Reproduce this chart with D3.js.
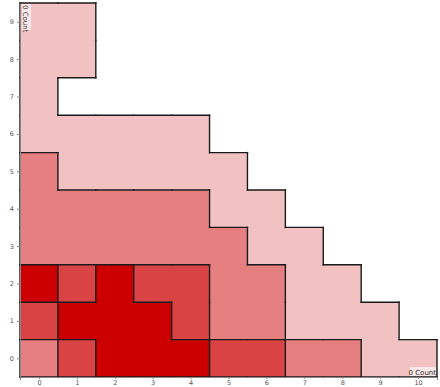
<!DOCTYPE html>
<html>
<head>
<meta charset="utf-8">
<script src="https://cdn.jsdelivr.net/npm/d3@7"></script>
<style>
  body { margin: 0; background: #fff; }
  .axis text { font-family: "DejaVu Sans", sans-serif; font-size: 6.5px; fill: #555; }
  .axis path, .axis line { stroke: #888; }
</style>
</head>
<body>
<div class="Heatmap"></div>
<script>
// x and y categories
const xValues = [0, 1, 2, 3, 4, 5, 6, 7, 8, 9, 10];
const yValues = [0, 1, 2, 3, 4, 5, 6, 7, 8, 9];

// level per row (index = y value), one entry per x value
const row0 = [2, 3, 4, 4, 4, 3, 3, 2, 2, 1, 1];
const row1 = [3, 4, 4, 4, 3, 2, 2, 1, 1, 1, 0];
const row2 = [4, 3, 4, 3, 3, 2, 2, 1, 1, 0, 0];
const row3 = [2, 2, 2, 2, 2, 2, 1, 1, 0, 0, 0];
const row4 = [2, 2, 2, 2, 2, 1, 1, 0, 0, 0, 0];
const row5 = [2, 1, 1, 1, 1, 1, 0, 0, 0, 0, 0];
const row6 = [1, 1, 1, 1, 1, 0, 0, 0, 0, 0, 0];
const row7 = [1, 0, 0, 0, 0, 0, 0, 0, 0, 0, 0];
const row8 = [1, 1, 0, 0, 0, 0, 0, 0, 0, 0, 0];
const row9 = [1, 1, 0, 0, 0, 0, 0, 0, 0, 0, 0];
const rows = [row0, row1, row2, row3, row4, row5, row6, row7, row8, row9];

const levelColors = ["#ffffff", "#f2c2c2", "#e57f80", "#d94344", "#cc0000"];
const xTitle = "0 Count";
const yTitle = "0 Count";

const width = 440, height = 387;
const margin = ({ top: 3, right: 3, bottom: 10, left: 20 });

const cells = [];
rows.forEach((r, yi) => r.forEach((v, xi) => cells.push({ x: xValues[xi], y: yValues[yi], level: v })));

//scales
const x = d3.scaleLinear()
  .domain([xValues[0] - 0.5, xValues[xValues.length - 1] + 0.5])
  .range([margin.left, width - margin.right]);

const y = d3.scaleLinear()
  .domain([yValues[0] - 0.5, yValues[yValues.length - 1] + 0.5])
  .range([height - margin.bottom, margin.top]);

const color = d3.scaleOrdinal().domain([0, 1, 2, 3, 4]).range(levelColors);

const svg = d3.select(".Heatmap").append("svg")
  .attr("width", width)
  .attr("height", height);

//cells
svg.append("g")
  .selectAll("rect")
  .data(cells.filter(d => d.level > 0))
  .join("rect")
  .attr("x", d => x(d.x - 0.5))
  .attr("y", d => y(d.y + 0.5))
  .attr("width", d => x(d.x + 0.5) - x(d.x - 0.5))
  .attr("height", d => y(d.y - 0.5) - y(d.y + 0.5))
  .attr("fill", d => color(d.level))
  .attr("shape-rendering", "crispEdges");

//borders between cells of different level
const levelAt = (xi, yi) => (rows[yi] && rows[yi][xi] !== undefined) ? rows[yi][xi] : 0;
const edges = [];
for (let yi = -1; yi < yValues.length; yi++) {
  for (let xi = -1; xi < xValues.length; xi++) {
    const a = levelAt(xi, yi);
    // right neighbour
    const b = levelAt(xi + 1, yi);
    if (yi >= 0 && a !== b) {
      edges.push({ x1: xi + 0.5, y1: yi - 0.5, x2: xi + 0.5, y2: yi + 0.5 });
    }
    // upper neighbour
    const c = levelAt(xi, yi + 1);
    if (xi >= 0 && a !== c) {
      edges.push({ x1: xi - 0.5, y1: yi + 0.5, x2: xi + 0.5, y2: yi + 0.5 });
    }
  }
}

svg.append("g")
  .selectAll("line")
  .data(edges)
  .join("line")
  .attr("x1", d => x(d.x1))
  .attr("x2", d => x(d.x2))
  .attr("y1", d => y(d.y1))
  .attr("y2", d => y(d.y2))
  .attr("stroke", "#1a1a1a")
  .attr("stroke-width", 1.4)
  .attr("stroke-linecap", "square");

//axes
svg.append("g")
  .attr("class", "axis")
  .attr("transform", `translate(0,${height - margin.bottom})`)
  .call(d3.axisBottom(x).tickValues(xValues).tickSize(2).tickSizeOuter(3).tickPadding(1));

svg.append("g")
  .attr("class", "axis")
  .attr("transform", `translate(${margin.left},0)`)
  .call(d3.axisLeft(y).tickValues(yValues).tickSize(3).tickSizeOuter(0));

//axis titles
const xt = svg.append("g")
  .attr("transform", `translate(${width - margin.right - 1},${height - margin.bottom - 2})`);
xt.append("rect")
  .attr("x", -26).attr("y", -8).attr("width", 26).attr("height", 9)
  .attr("fill", "#fff").attr("fill-opacity", 0.6);
xt.append("text")
  .text(xTitle)
  .attr("text-anchor", "end")
  .attr("font-family", "DejaVu Sans, sans-serif")
  .attr("font-size", 7)
  .attr("fill", "#333");

const yt = svg.append("g")
  .attr("transform", `translate(${margin.left + 3},${margin.top + 1}) rotate(90)`);
yt.append("rect")
  .attr("x", 0).attr("y", -8).attr("width", 26).attr("height", 9)
  .attr("fill", "#fff").attr("fill-opacity", 0.6);
yt.append("text")
  .text(yTitle)
  .attr("x", 1)
  .attr("font-family", "DejaVu Sans, sans-serif")
  .attr("font-size", 7)
  .attr("fill", "#333");
</script>
</body>
</html>
